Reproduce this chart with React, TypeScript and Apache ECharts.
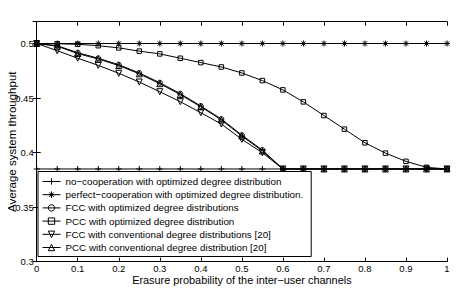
import React, { useEffect, useRef } from "react";
import * as echarts from "echarts";

const xValues = [0, 0.05, 0.1, 0.15, 0.2, 0.25, 0.3, 0.35, 0.4, 0.45, 0.5, 0.55, 0.6, 0.65, 0.7, 0.75, 0.8, 0.85, 0.9, 0.95, 1];
const noCoop = [0.385, 0.385, 0.385, 0.385, 0.385, 0.385, 0.385, 0.385, 0.385, 0.385, 0.385, 0.385, 0.385, 0.385, 0.385, 0.385, 0.385, 0.385, 0.385, 0.385, 0.385];
const perfectCoop = [0.5, 0.5, 0.5, 0.5, 0.5, 0.5, 0.5, 0.5, 0.5, 0.5, 0.5, 0.5, 0.5, 0.5, 0.5, 0.5, 0.5, 0.5, 0.5, 0.5, 0.5];
const fccOpt = [0.5, 0.498, 0.4916, 0.4865, 0.4806, 0.473, 0.4641, 0.454, 0.4427, 0.4308, 0.416, 0.4024, 0.385, 0.385, 0.385, 0.385, 0.385, 0.385, 0.385, 0.385, 0.385];
const pccOpt = [0.5, 0.4998, 0.4993, 0.498, 0.496, 0.493, 0.4905, 0.4865, 0.4825, 0.4785, 0.473, 0.466, 0.4575, 0.4465, 0.434, 0.4215, 0.409, 0.3995, 0.392, 0.3865, 0.385];
const fccConv = [0.5, 0.4934, 0.4865, 0.48, 0.4727, 0.4647, 0.4558, 0.4467, 0.4366, 0.4262, 0.4122, 0.3999, 0.385, 0.385, 0.385, 0.385, 0.385, 0.385, 0.385, 0.385, 0.385];
const pccConv = [0.5, 0.4975, 0.4908, 0.4858, 0.4798, 0.4722, 0.4632, 0.4532, 0.442, 0.43, 0.4152, 0.4015, 0.385, 0.385, 0.385, 0.385, 0.385, 0.385, 0.385, 0.385, 0.385];

const seriesNames = [
  "no\u2212cooperation with optimized degree distribution",
  "perfect\u2212cooperation with optimized degree distribution.",
  "FCC with optimized degree distributions",
  "PCC with optimized degree distribution",
  "FCC with conventional degree distributions [20]",
  "PCC with conventional degree distribution [20]",
];

const FONT = "'Liberation Sans', Arial, Helvetica, sans-serif";

const plusPath = "path://M5 0L5 10M0 5L10 5";
const starPath = "path://M5 0L5 10M0 5L10 5M1.5 1.5L8.5 8.5M8.5 1.5L1.5 8.5";
const downTri = "path://M0 0L10 0L5 9Z";

export default function App() {
  const ref = useRef<HTMLDivElement>(null);
  useEffect(() => {
    const chart = echarts.init(ref.current!, null, { renderer: "svg" });
    const mk = (name: string, vals: number[], symbol: string, size: number, z: number) => ({
      name,
      type: "line",
      data: xValues.map((x, i) => [x, vals[i]]),
      symbol,
      symbolSize: size,
      showAllSymbol: true,
      color: "#000",
      lineStyle: { color: "#000", width: 1 },
      itemStyle: { color: "rgba(255,255,255,0)", borderColor: "#000", borderWidth: 1 },
      emphasis: { disabled: true },
      z,
    });
    chart.setOption({
      animation: false,
      backgroundColor: "#fff",
      textStyle: { fontFamily: FONT },
      grid: { left: 36.7, right: 16, top: 21.7, bottom: 32.3, outerBoundsMode: "none", containLabel: false },
      legend: {
        orient: "vertical",
        left: 38,
        top: 171.5,
        padding: [5, 8, 4, 4],
        itemGap: 3.2,
        itemWidth: 18,
        itemHeight: 8,
        backgroundColor: "#fff",
        borderColor: "#000",
        borderWidth: 1,
        borderRadius: 0,
        itemStyle: { color: "rgba(255,255,255,0)", borderColor: "#000", borderWidth: 1 },
        lineStyle: { color: "#000", width: 1 },
        textStyle: { fontFamily: FONT, fontSize: 9.8, color: "#000" },
        data: seriesNames,
        z: 10,
      },
      xAxis: [
        {
          type: "value",
          min: 0,
          max: 1,
          interval: 0.1,
          name: "Erasure probability of the inter\u2212user channels",
          nameLocation: "middle",
          nameGap: 12.5,
          nameMoveOverlap: false,
          nameTextStyle: { fontFamily: FONT, fontSize: 10.9, color: "#000" },
          axisLine: { show: true, lineStyle: { color: "#000", width: 1 } },
          axisTick: { show: true, inside: true, length: 4, lineStyle: { color: "#000" } },
          axisLabel: { color: "#000", fontSize: 9.5, fontFamily: FONT, margin: 2, formatter: (v: number) => String(Math.round(v * 10) / 10) },
          splitLine: { show: false },
        },
        {
          type: "value",
          position: "top",
          min: 0,
          max: 1,
          interval: 0.1,
          axisLine: { show: true, lineStyle: { color: "#000", width: 1 } },
          axisTick: { show: true, inside: true, length: 4, lineStyle: { color: "#000" } },
          axisLabel: { show: false },
          splitLine: { show: false },
        },
      ],
      yAxis: [
        {
          type: "value",
          min: 0.3,
          max: 0.52,
          interval: 0.05,
          name: "Average system throughput",
          nameLocation: "middle",
          nameGap: 19,
          nameMoveOverlap: false,
          nameTextStyle: { fontFamily: FONT, fontSize: 11.5, color: "#000" },
          axisLine: { show: true, lineStyle: { color: "#000", width: 1 } },
          axisTick: { show: true, inside: true, length: 4, lineStyle: { color: "#000" } },
          axisLabel: {
            color: "#000",
            fontSize: 9.5,
            fontFamily: FONT,
            margin: 3,
            showMaxLabel: false,
            formatter: (v: number) => {
              const r = Math.round(v * 100) / 100;
              return Math.abs(r * 20 - Math.round(r * 20)) < 1e-6 ? String(r) : "";
            },
          },
          splitLine: { show: false },
        },
        {
          type: "value",
          position: "right",
          min: 0.3,
          max: 0.52,
          interval: 0.05,
          axisLine: { show: true, lineStyle: { color: "#000", width: 1 } },
          axisTick: { show: true, inside: true, length: 4, lineStyle: { color: "#000" } },
          axisLabel: { show: false },
          splitLine: { show: false },
        },
      ],
      series: [
        mk(seriesNames[0], noCoop, plusPath, 6, 2),
        mk(seriesNames[1], perfectCoop, starPath, 6, 2),
        mk(seriesNames[2], fccOpt, "circle", 5, 3),
        mk(seriesNames[3], pccOpt, "rect", 4.5, 3),
        mk(seriesNames[4], fccConv, downTri, 6, 3),
        mk(seriesNames[5], pccConv, "triangle", 6, 3),
      ],
    });
    return () => chart.dispose();
  }, []);
  return <div ref={ref} style={{ width: 463, height: 294, margin: -8 }} />;
}
